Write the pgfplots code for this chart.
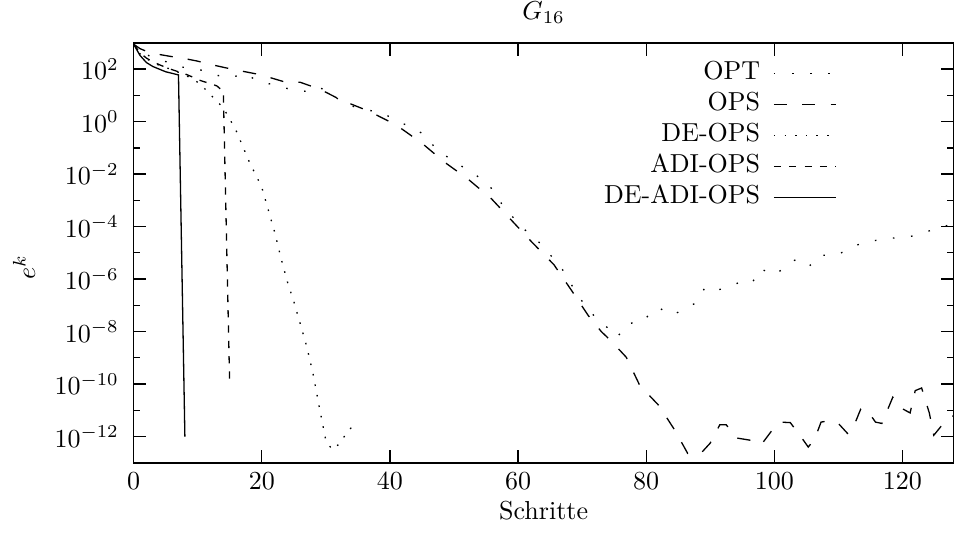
\documentclass[border=0pt]{standalone}
\usepackage{pgfplots}
\pgfplotsset{compat=1.18}
\begin{document}
\begin{tikzpicture}
\begin{axis}[
  scale only axis, width=315.4pt, height=161.5pt,
  xmin=0, xmax=128, ymin=1e-13, ymax=1e3, ymode=log,
  xtick={0,20,40,60,80,100,120},
  ytick={1e-12,1e-10,1e-8,1e-6,1e-4,1e-2,1e0,1e2},
  minor ytick={1e-13,1e-11,1e-9,1e-7,1e-5,1e-3,1e-1,1e1,1e3},
  tick align=inside, major tick length=4.9pt, minor tick length=2.6pt,
  axis line style={line width=0.6pt},
  every tick/.style={black, line width=0.5pt},
  xticklabel style={anchor=base, inner sep=0pt, yshift=-10.2pt},
  yticklabel style={anchor=east, inner sep=0pt, xshift=-5.5pt},
  title={$G_{16}$},
  every axis title/.style={at={(0.5,1)}, anchor=base, yshift=8.85pt, inner sep=0pt},
  xlabel={Schritte},
  every axis x label/.style={at={(0.5,0)}, anchor=base, yshift=-21.9pt, inner sep=0pt},
  ylabel={$e^k$},
  every axis y label/.style={at={(-0.1202,0.467)}, rotate=90, anchor=base, inner sep=0pt},
  legend plot pos=right, legend cell align=right,
  legend style={at={(0.857,0.964)}, anchor=north east, draw=none, fill=none,
    inner sep=0pt, outer sep=0pt, row sep=0pt, column sep=3.6pt,
    nodes={inner sep=1.45pt, text height=7pt, text depth=2pt}},
  legend image code/.code={\draw[#1] (0pt,0pt) -- (23.8pt,0pt);},
  every axis plot/.append style={black, line width=0.5pt},
]
\path (rel axis cs:0,0) coordinate (ll) (rel axis cs:1,1) coordinate (ur);

% OPT
\addplot[dash pattern=on 0.6pt off 6.4pt] table {
0 8.91e2
1 5.25e2
2.6 3.02e2
5.1 1.91e2
7.5 1.20e2
10.1 1.00e2
12.4 6.31e1
15 4.57e1
17.4 6.92e1
19.5 3.31e1
22.1 2.51e1
24.7 1.62e1
27.5 1.38e1
29.1 2.00e1
31 1.00e1
33.5 4.27
36.4 2.75
38.5 2.34
41 1.12
43.5 5.75e-1
45.8 2.82e-1
47 1.00e-1
49 4.47e-2
51.4 1.86e-2
53.5 8.91e-3
55.5 3.80e-3
57.8 5.50e-4
60.6 9.55e-5
63.8 1.95e-5
67 2.19e-6
69.5 2.04e-7
72.2 3.16e-8
73.9 1.45e-8
75.5 6.03e-9
77 2.04e-8
79.4 2.24e-8
80.6 4.90e-8
81.9 8.32e-8
84 4.17e-8
85.6 6.46e-8
87.9 1.29e-7
89.2 4.90e-7
91.1 3.72e-7
94.7 7.59e-7
96.5 6.92e-7
97.9 2.57e-6
99.6 1.41e-6
101.7 2.57e-6
103.2 5.25e-6
105.3 2.82e-6
107.1 8.13e-6
109.8 8.13e-6
111.5 1.38e-5
113.9 2.51e-5
116 3.02e-5
118.4 3.63e-5
120.9 3.98e-5
123.2 5.62e-5
125.8 9.55e-5
128 1.23e-4
};
\addlegendentry{OPT}

% OPS
\addplot[dash pattern=on 5.1pt off 5.8pt] table {
0 8.91e2
1 6.03e2
2 4.79e2
4 3.63e2
5.4 3.16e2
8 2.51e2
9.9 2.04e2
12 1.51e2
14.4 1.12e2
17 8.32e1
19.1 6.61e1
21 5.01e1
23.6 3.24e1
26 3.16e1
28.3 2.00e1
30 1.32e1
32.4 6.61
36.8 2.45
41 7.41e-1
45 1.51e-1
48.5 2.88e-2
52.2 6.46e-3
55.9 1.12e-3
59.1 1.62e-4
62.2 2.51e-5
65.6 3.55e-6
68.4 3.55e-7
71 3.98e-8
73 1.00e-8
74.5 4.47e-9
76.9 1.05e-9
79 8.91e-11
82 1.51e-11
84.5 1.70e-12
86.5 2.24e-13
88.5 2.24e-13
90 5.62e-13
91.5 2.82e-12
92.5 2.82e-12
94 8.91e-13
96.5 7.08e-13
98 5.01e-13
100 2.24e-12
101 3.55e-12
102.5 3.39e-12
104 1.12e-12
105.3 3.98e-13
106.3 7.94e-13
107.3 3.55e-12
108.5 3.98e-12
110 3.16e-12
111.5 1.26e-12
112.5 2.82e-12
113.5 1.12e-11
114.5 1.00e-11
115.8 3.55e-12
116.8 3.16e-12
118.5 3.16e-11
119.7 1.26e-11
121.2 7.94e-12
122 5.62e-11
123 7.08e-11
124.2 7.94e-12
124.9 1.12e-12
126.4 3.16e-12
128 6.31e-12
};
\addlegendentry{OPS}

% DE-OPS
\addplot[dash pattern=on 0.6pt off 3.5pt] table {
0 8.91e2
1 3.80e2
2 2.51e2
3 1.82e2
4 1.41e2
5 1.15e2
6 9.55e1
7 7.59e1
8 6.03e1
9 4.47e1
10 3.16e1
11 1.91e1
12 1.05e1
13 6.03
14 3.31
15 1.26
16 4.47e-1
17 1.20e-1
18 3.16e-2
19 1.00e-2
20 3.16e-3
21 4.47e-4
22 6.31e-5
23 6.31e-6
24 7.94e-7
25 1.41e-7
26 2.00e-8
27 2.82e-9
28 2.51e-10
29 1.26e-11
30 7.08e-13
31 3.16e-13
32 5.01e-13
33 1.10e-12
34 2.24e-12
35 2.00e-12
};
\addlegendentry{DE-OPS}

% ADI-OPS
\addplot[dash pattern=on 2.8pt off 3.1pt] table {
0 8.91e2
1 4.17e2
2 2.63e2
3 1.91e2
4 1.48e2
5 1.17e2
6 9.55e1
7 7.94e1
8 6.61e1
9 5.25e1
10 3.98e1
11 3.31e1
12 2.82e1
13 2.29e1
14 1.41e1
15 7.94e-11
};
\addlegendentry{ADI-OPS}

% DE-ADI-OPS
\addplot[solid] table {
0 8.91e2
1 3.31e2
2 1.78e2
3 1.26e2
4 1.00e2
5 7.94e1
6 6.92e1
7 6.03e1
8 1.00e-12
};
\addlegendentry{DE-ADI-OPS}
\end{axis}
\pgfresetboundingbox
\useasboundingbox ([xshift=-51.4pt,yshift=-28.1pt]ll) rectangle ([xshift=0.9pt,yshift=16.5pt]ur);
\end{tikzpicture}
\end{document}
